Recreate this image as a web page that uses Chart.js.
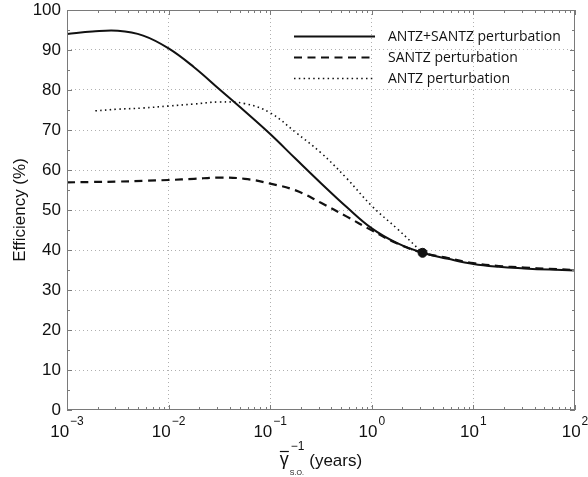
<!DOCTYPE html>
<html>
<head>
<meta charset="utf-8">
<script src="https://cdn.jsdelivr.net/npm/chart.js@4.4.1/dist/chart.umd.min.js"></script>
<style>
    html, body { margin: 0; padding: 0; background: #fff; }
</style>
</head>
<body>
<canvas id="efficiency-graph" width="588" height="477"></canvas>
<script>
// x tick labels: 10^exp
var xTickValues = [1e-3, 1e-2, 1e-1, 1, 10, 100];
var xTickExps = ['\u22123', '\u22122', '\u22121', '0', '1', '2'];

// quarter-decade sample points
var xGrid = [0.001, 0.00178, 0.00316, 0.00562, 0.01, 0.0178, 0.0316, 0.0562, 0.1, 0.178, 0.316,
             0.562, 1, 1.78, 3.16, 5.62, 10, 17.8, 31.6, 56.2, 100];

// ANTZ+SANTZ perturbation (solid)
var yCombined = [94.0, 94.6, 94.8, 93.6, 90.4, 85.7, 80.2, 74.7, 69.0, 62.8, 56.7,
                 50.8, 45.4, 41.7, 39.3, 37.8, 36.5, 35.8, 35.4, 35.1, 34.9];

// SANTZ perturbation (dashed)
var ySantz = [56.9, 57.0, 57.1, 57.3, 57.5, 57.8, 58.1, 57.8, 56.6, 54.9, 51.8,
              48.4, 44.9, 41.6, 39.3, 38.0, 36.7, 36.0, 35.6, 35.3, 35.0];

// ANTZ perturbation (dotted)
var xAntz = [0.0019, 0.00316, 0.00562, 0.01, 0.0178, 0.0316, 0.0562, 0.1, 0.178, 0.316, 0.562, 1, 1.78, 3.16];
var yAntz = [74.8, 75.2, 75.5, 76.0, 76.5, 77.0, 76.6, 74.3, 69.4, 64.3, 58.0, 51.0, 45.3, 39.3];

// common point
var xMark = [3.16];
var yMark = [39.3];

var FONT = '"Liberation Sans", Arial, Helvetica, sans-serif';

function points(xs, ys) {
    return xs.map(function (x, i) { return { x: x, y: ys[i] }; });
}

function isDecade(v) {
    var l = Math.log10(v);
    return Math.abs(l - Math.round(l)) < 1e-9;
}

var axesDecor = {
    id: 'axesDecor',
    afterDraw: function (chart) {
        var ctx = chart.ctx, a = chart.chartArea;
        var xs = chart.scales.x, ys = chart.scales.y;
        ctx.save();

        // box
        ctx.strokeStyle = '#7a7a7a';
        ctx.lineWidth = 1;
        ctx.strokeRect(Math.round(a.left) + 0.5, Math.round(a.top) + 0.5,
            Math.round(a.right - a.left) - 1, Math.round(a.bottom - a.top) - 1);

        // inward tick marks
        ctx.beginPath();
        for (var k = -3; k <= 2; k++) {
            for (var m = 1; m < 10; m++) {
                var v = m * Math.pow(10, k);
                if (v > 100.0001) break;
                var px = Math.round(xs.getPixelForValue(v)) + 0.5;
                var len = m === 1 ? 5 : 3;
                ctx.moveTo(px, a.bottom); ctx.lineTo(px, a.bottom - len);
                ctx.moveTo(px, a.top); ctx.lineTo(px, a.top + len);
            }
        }
        for (var yv = 0; yv <= 100; yv += 5) {
            var py = Math.round(ys.getPixelForValue(yv)) + 0.5;
            var l2 = yv % 10 === 0 ? 5 : 3;
            ctx.moveTo(a.left, py); ctx.lineTo(a.left + l2, py);
            ctx.moveTo(a.right, py); ctx.lineTo(a.right - l2, py);
        }
        ctx.stroke();

        // x tick labels with exponents
        ctx.fillStyle = '#111';
        ctx.textBaseline = 'alphabetic';
        ctx.textAlign = 'left';
        xTickValues.forEach(function (v, i) {
            var px = xs.getPixelForValue(v);
            ctx.font = '17px ' + FONT;
            var wb = ctx.measureText('10').width;
            ctx.font = '12px ' + FONT;
            var we = ctx.measureText(xTickExps[i]).width;
            var left = px - (wb + we + 1) / 2;
            ctx.font = '17px ' + FONT;
            ctx.fillText('10', left, 437);
            ctx.font = '12px ' + FONT;
            ctx.fillText(xTickExps[i], left + wb + 1, 425);
        });

        // x axis title: gamma-bar sub S.O. sup -1 (years)
        var cx = (a.left + a.right) / 2;
        ctx.font = '18px ' + FONT;
        var wg = ctx.measureText('\u03b3').width;
        ctx.font = '17px ' + FONT;
        var wy = ctx.measureText(' (years)').width;
        ctx.font = '12px ' + FONT;
        var ws = ctx.measureText('\u22121').width;
        var total = wg + ws + 2 + wy;
        var x0 = cx - total / 2;
        ctx.font = '18px ' + FONT;
        ctx.fillText('\u03b3', x0, 465);
        ctx.beginPath();
        ctx.lineWidth = 1.2;
        ctx.strokeStyle = '#111';
        ctx.moveTo(x0, 451.5); ctx.lineTo(x0 + wg, 451.5);
        ctx.stroke();
        ctx.font = '12px ' + FONT;
        ctx.fillText('\u22121', x0 + wg + 2, 450);
        ctx.font = '7px ' + FONT;
        ctx.fillText('S.O.', x0 + wg + 1, 475);
        ctx.font = '17px ' + FONT;
        ctx.fillText(' (years)', x0 + wg + ws + 2, 466);

        // legend, no frame
        ctx.font = '14px "Open Sans", "Noto Sans", sans-serif';
        ctx.textBaseline = 'middle';
        for (var i = 0; i < 3; i++) {
            var ds = chart.data.datasets[i];
            var ly = 36 + i * 21;
            ctx.beginPath();
            ctx.strokeStyle = ds.borderColor;
            ctx.lineWidth = ds.borderWidth;
            ctx.setLineDash(ds.borderDash || []);
            ctx.moveTo(294, ly + 0.5); ctx.lineTo(375, ly + 0.5);
            ctx.stroke();
            ctx.setLineDash([]);
            ctx.fillStyle = '#111';
            ctx.fillText(ds.label, 388, ly + 1);
        }
        ctx.restore();
    }
};

document.addEventListener('DOMContentLoaded', function () {
    var ctx = document.getElementById('efficiency-graph').getContext('2d');

    var efficiencyChart = new Chart(ctx, {
        type: 'line',
        data: {
            datasets: [{
                label: 'ANTZ+SANTZ perturbation',
                data: points(xGrid, yCombined),
                borderColor: '#111',
                borderWidth: 2,
                pointRadius: 0,
                tension: 0.4,
                fill: false
            }, {
                label: 'SANTZ perturbation',
                data: points(xGrid, ySantz),
                borderColor: '#111',
                borderWidth: 2.2,
                borderDash: [8, 5.5],
                pointRadius: 0,
                tension: 0.4,
                fill: false
            }, {
                label: 'ANTZ perturbation',
                data: points(xAntz, yAntz),
                borderColor: '#111',
                borderWidth: 1.6,
                borderDash: [1.5, 3.3],
                pointRadius: 0,
                tension: 0.4,
                fill: false
            }, {
                label: '',
                data: points(xMark, yMark),
                showLine: false,
                pointRadius: 4.5,
                pointBackgroundColor: '#111',
                pointBorderColor: '#111'
            }]
        },
        options: {
            responsive: false,
            animation: false,
            devicePixelRatio: 1,
            layout: { padding: { top: 10, right: 13, bottom: 0, left: 0 } },
            plugins: {
                legend: { display: false },
                tooltip: { enabled: false }
            },
            scales: {
                x: {
                    type: 'logarithmic',
                    min: 1e-3,
                    max: 1e2,
                    ticks: { display: false },
                    border: { display: false, dash: [1, 3] },
                    grid: {
                        drawTicks: false,
                        lineWidth: 1,
                        color: function (c) {
                            var v = c.tick.value;
                            return (isDecade(v) && v > 1.5e-3 && v < 90) ? '#b0b0b0' : 'rgba(0,0,0,0)';
                        }
                    },
                    afterFit: function (s) { s.height = 67; s.paddingLeft = 0; s.paddingRight = 0; }
                },
                y: {
                    min: 0,
                    max: 100,
                    ticks: {
                        stepSize: 10,
                        padding: 6,
                        color: '#111',
                        font: { family: FONT, size: 17 }
                    },
                    border: { display: false, dash: [1, 3] },
                    grid: {
                        drawTicks: false,
                        lineWidth: 1,
                        color: function (c) {
                            var v = c.tick.value;
                            return (v > 0 && v < 100) ? '#b0b0b0' : 'rgba(0,0,0,0)';
                        }
                    },
                    title: {
                        display: true,
                        text: 'Efficiency (%)',
                        color: '#111',
                        font: { family: FONT, size: 17 },
                        padding: { top: 10, bottom: 0 }
                    },
                    afterFit: function (s) { s.width = 67; s.paddingTop = 0; s.paddingBottom = 0; }
                }
            }
        },
        plugins: [axesDecor]
    });
});
</script>
</body>
</html>
